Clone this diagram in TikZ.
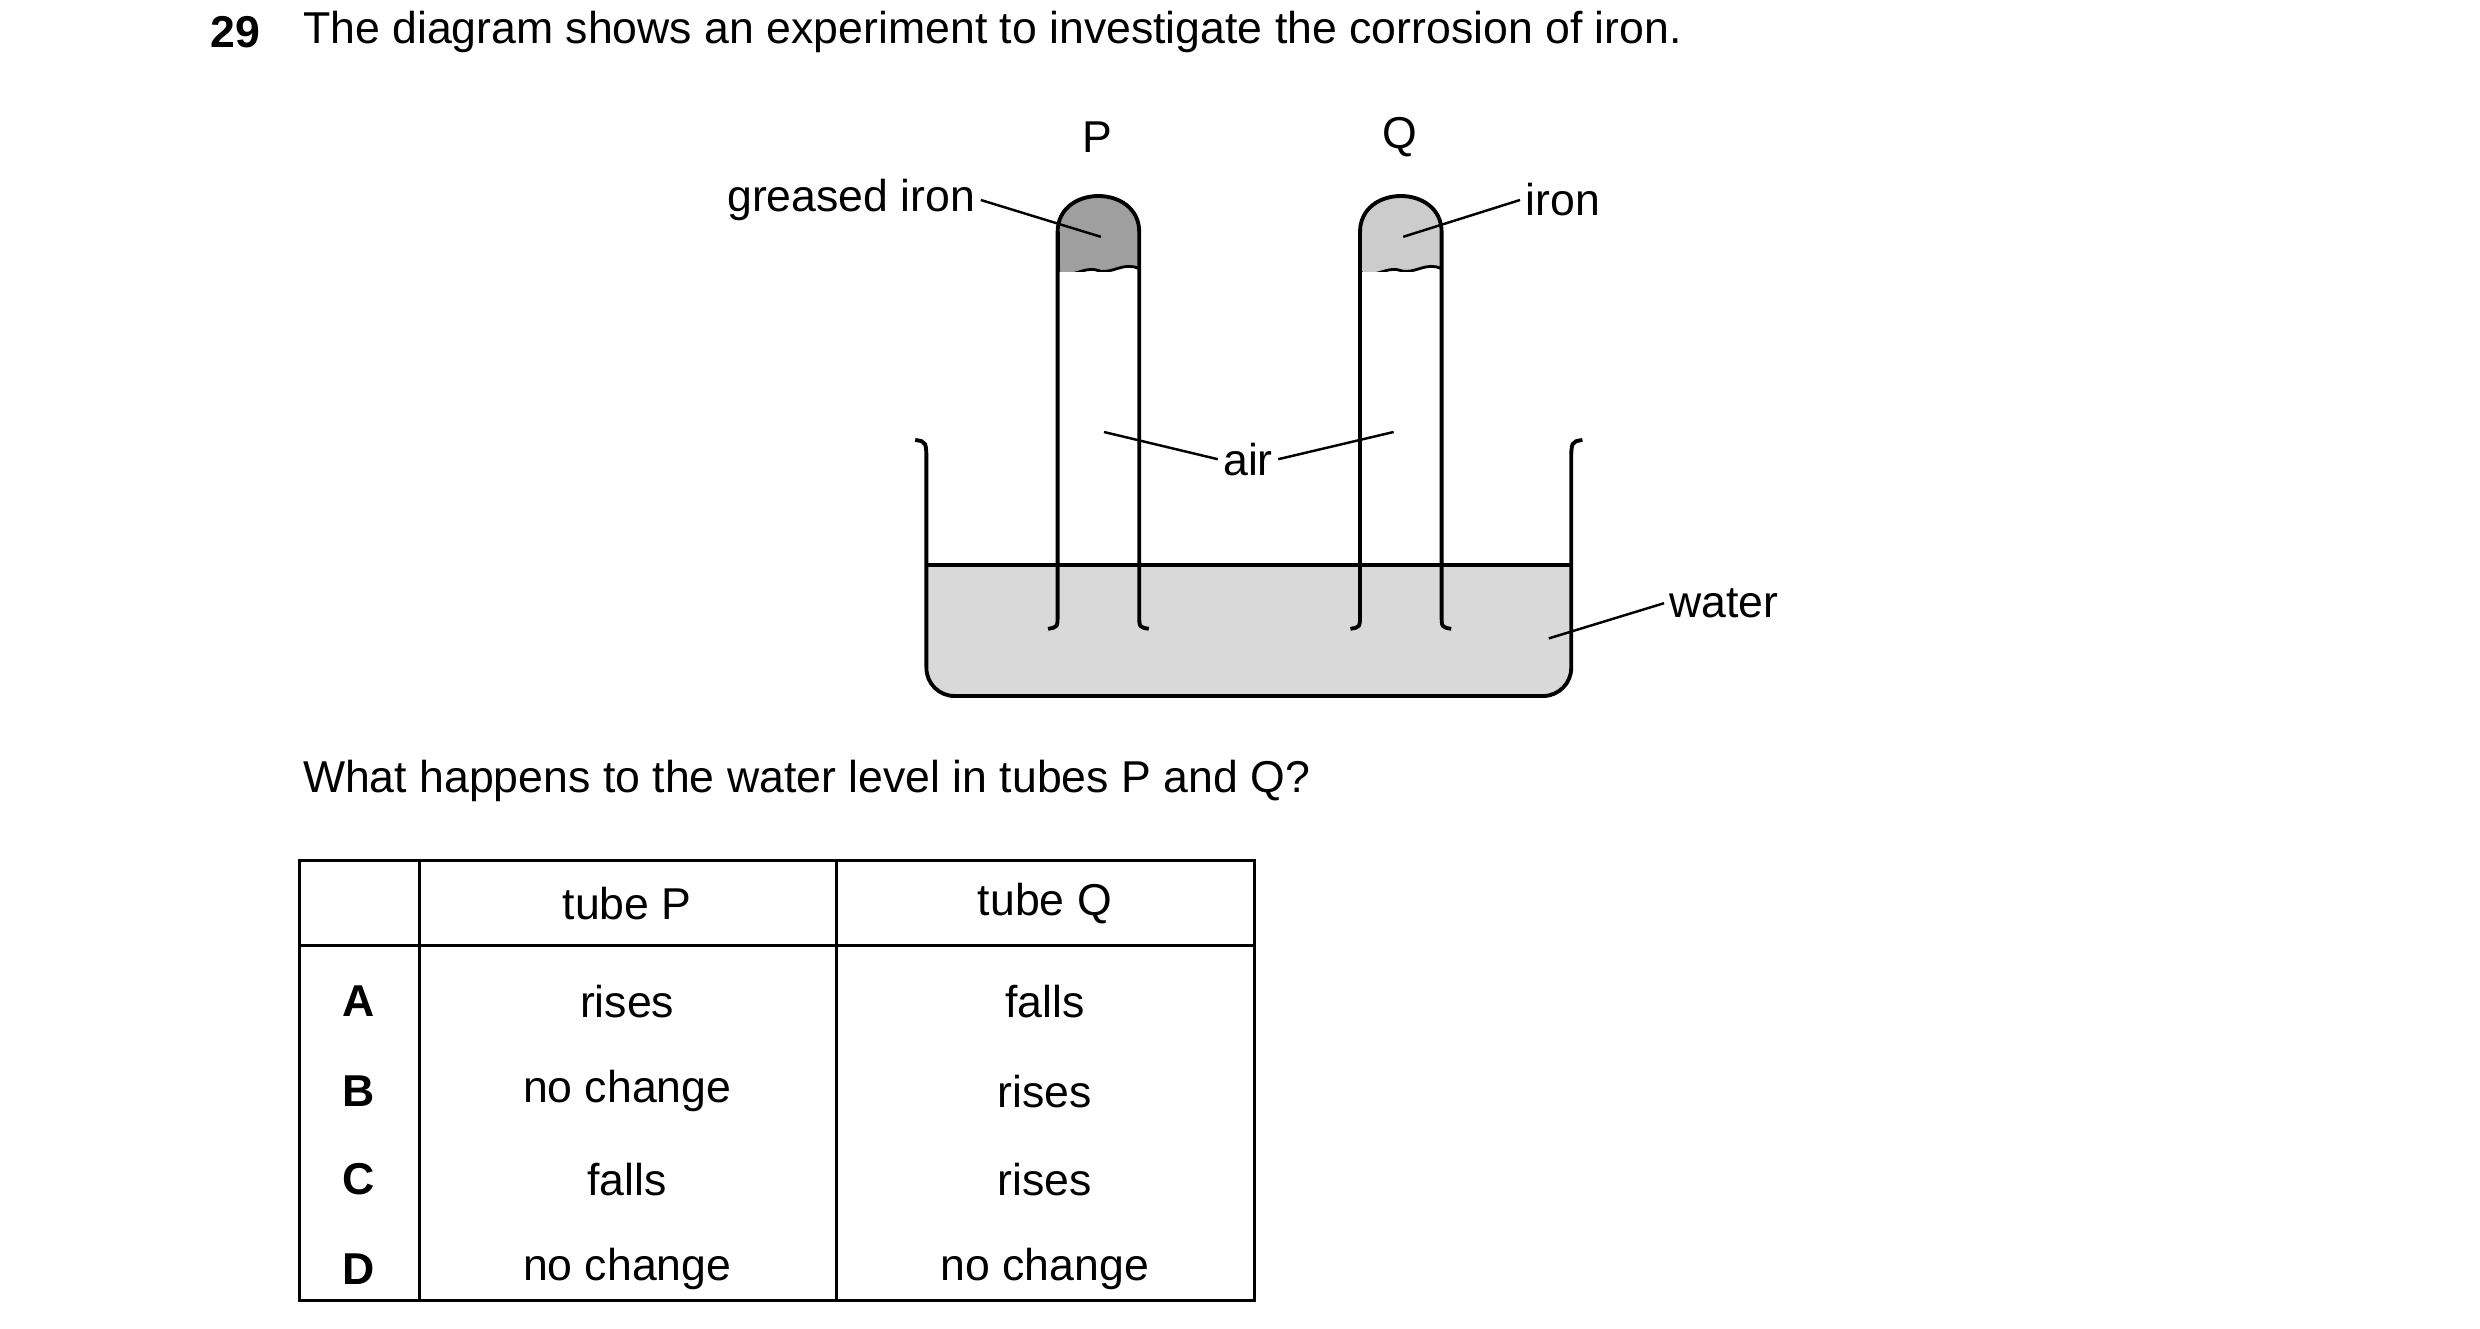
\documentclass[tikz,border=0pt]{standalone}
\usepackage{fontspec}
\setmainfont{Liberation Sans}
\begin{document}
\begin{tikzpicture}[x=0.016cm,y=-0.016cm,line width=1.1pt,
  lbl/.style={inner sep=1pt,font=\fontsize{12.7}{15}\selectfont},
  ln/.style={line width=0.7pt}]
\useasboundingbox (0,0) rectangle (1550,830);
\fontsize{12.7}{15}\selectfont
% header
\node[lbl,anchor=west,font=\fontsize{12.7}{15}\selectfont\bfseries] (num) at (128,20) {29};
\node[lbl,anchor=west] (title) at (186,20) {The diagram shows an experiment to investigate the corrosion of iron.};
% water
\fill[gray!30] (579,353) -- (982,353) -- (982,425) [rounded corners=8] -- (982,435) -- (579,435) [sharp corners] -- (579,425) -- cycle;
\fill[gray!30,rounded corners=8] (579,353) rectangle (982,435);
\draw (572,275) .. controls (579,276) .. (579,290) [rounded corners=8] -- (579,435) -- (982,435) [sharp corners] -- (982,290) .. controls (982,276) .. (989,275);
\draw (579,353) -- (982,353);
% grease / iron fills
\fill[gray!75] (661,170) -- (661,145) .. controls (661,115) and (712,115) .. (712,145) -- (712,168) .. controls (702,163) and (695,172) .. (686,169) .. controls (677,166) and (670,175) .. (661,170) -- cycle;
\fill[gray!40] (850,170) -- (850,145) .. controls (850,115) and (901,115) .. (901,145) -- (901,168) .. controls (891,163) and (884,172) .. (875,169) .. controls (866,166) and (859,175) .. (850,170) -- cycle;
\draw[line width=0.8pt] (712,168) .. controls (702,163) and (695,172) .. (686,169) .. controls (677,166) and (670,175) .. (661,170);
\draw[line width=0.8pt] (901,168) .. controls (891,163) and (884,172) .. (875,169) .. controls (866,166) and (859,175) .. (850,170);
% tubes
\foreach \a/\b in {661/712,850/901}{
  \fill[white] (\a,170) rectangle (\b,352);
  \draw (\a-6,393) .. controls (\a,392) .. (\a,384) -- (\a,145) .. controls (\a,115) and (\b,115) .. (\b,145) -- (\b,384) .. controls (\b,392) .. (\b+6,393);
}
\draw (661,170) -- (661,145);
% labels
\node[lbl] (P) at (686,86) {P};
\node[lbl] (Q) at (875,86) {Q};
\node[lbl,anchor=east] (gi) at (613,125) {greased iron};
\coordinate (gp) at (688,148);
\draw[ln] (gi.east) -- (gp);
\node[lbl,anchor=west] (ir) at (950,125) {iron};
\coordinate (ip) at (877,148);
\draw[ln] (ir.west) -- (ip);
\node[lbl] (air) at (780,287) {air};
\coordinate (a1) at (690,270);
\coordinate (a2) at (871,270);
\draw[ln] (air.west) -- (a1);
\draw[ln] (air.east) -- (a2);
\node[lbl,anchor=west] (wt) at (1040,377) {water};
\coordinate (wp) at (968,399);
\draw[ln] (wt.west) -- (wp);
% question
\node[lbl,anchor=west] (qq) at (186,488) {What happens to the water level in tubes P and Q?};
% table
\draw[line width=0.9pt] (187,538) rectangle (784,813);
\draw[line width=0.9pt] (187,591) -- (784,591);
\draw[line width=0.9pt] (262,538) -- (262,813);
\draw[line width=0.9pt] (523,538) -- (523,813);
\node[lbl] (hP) at (392,565) {tube P};
\node[lbl] (hQ) at (653,565) {tube Q};
\foreach \l/\p/\q/\y in {A/rises/falls/626,B/no change/rises/682,C/falls/rises/737,D/no change/no change/793}{
  \node[lbl,font=\fontsize{12.7}{15}\selectfont\bfseries] (r\l) at (224,\y) {\l};
  \node[lbl] (p\l) at (392,\y) {\p};
  \node[lbl] (q\l) at (653,\y) {\q};
}
\end{tikzpicture}
\end{document}
